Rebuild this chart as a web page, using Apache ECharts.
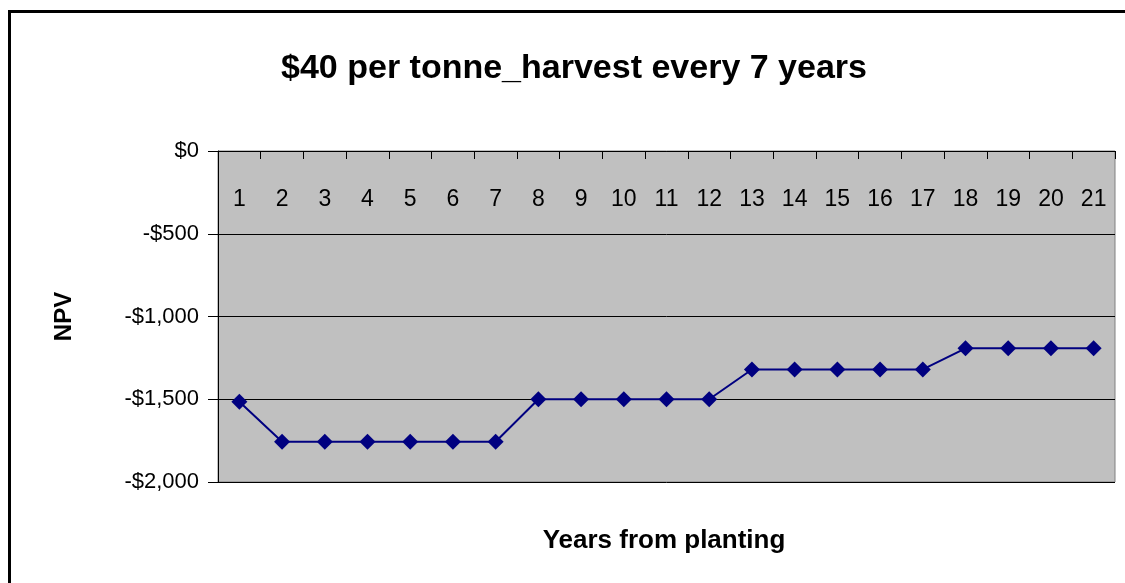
<!DOCTYPE html>
<html>
<head>
<meta charset="utf-8">
<script src="https://cdn.jsdelivr.net/npm/echarts@6/dist/echarts.min.js"></script>
<style>html,body{margin:0;padding:0;background:#fff}#c{width:1125px;height:583px}</style>
</head>
<body>
<div id="c"></div>
<script>
const categories = ['1','2','3','4','5','6','7','8','9','10','11','12','13','14','15','16','17','18','19','20','21'];
const npv = [-1515, -1757, -1757, -1757, -1757, -1757, -1757, -1500, -1500, -1500, -1500, -1500, -1320, -1320, -1320, -1320, -1320, -1192, -1192, -1192, -1192];
const titleText = '$40 per tonne_harvest every 7 years';
const xName = 'Years from planting';
const yName = 'NPV';

const chart = echarts.init(document.getElementById('c'));
const fmt = v => (v < 0 ? '-$' : '$') + Math.abs(v).toLocaleString('en-US');
chart.setOption({
  animation: false,
  backgroundColor: '#fff',
  title: {
    text: titleText,
    left: 569, top: 47, textAlign: 'center',
    textStyle: { fontFamily: 'Liberation Sans', fontWeight: 'bold', fontSize: 34, color: '#000' }
  },
  grid: { left: 218, top: 151, right: 10, bottom: 101, show: true, backgroundColor: '#c0c0c0', borderColor: '#808080', borderWidth: 1 },
  xAxis: {
    type: 'category', data: categories, position: 'top', boundaryGap: true,
    axisLine: { show: true, onZero: false, lineStyle: { color: '#000', width: 1 } },
    axisTick: { show: true, inside: true, length: 8, lineStyle: { color: '#000' } },
    axisLabel: { inside: true, margin: 37, interval: 0, fontFamily: 'Liberation Sans', fontSize: 23, color: '#000' },
    splitLine: { show: false }
  },
  yAxis: {
    type: 'value', min: -2000, max: 0, interval: 500,
    name: yName, nameLocation: 'middle', nameRotate: 90, nameGap: 142,
    nameTextStyle: { fontFamily: 'Liberation Sans', fontWeight: 'bold', fontSize: 24, color: '#000' },
    axisLine: { show: true, lineStyle: { color: '#000', width: 1 } },
    axisTick: { show: true, length: 10, lineStyle: { color: '#000' } },
    axisLabel: { margin: 19, formatter: fmt, fontFamily: 'Liberation Sans', fontSize: 22, color: '#000' },
    splitLine: { show: true, lineStyle: { color: '#000', width: 1 } }
  },
  graphic: [
    { type: 'rect', shape: { x: 9.5, y: 11.5, width: 1200, height: 700 }, style: { fill: 'none', stroke: '#000', lineWidth: 3 }, z: 100 },
    { type: 'text', x: 664, y: 541, style: { text: xName, textAlign: 'center', textVerticalAlign: 'middle', font: 'bold 26px "Liberation Sans"', fill: '#000' } }
  ],
  series: [{
    type: 'line', data: npv,
    symbol: 'diamond', symbolSize: 16,
    lineStyle: { color: '#000080', width: 2 },
    itemStyle: { color: '#000080' }
  }]
});
</script>
</body>
</html>
